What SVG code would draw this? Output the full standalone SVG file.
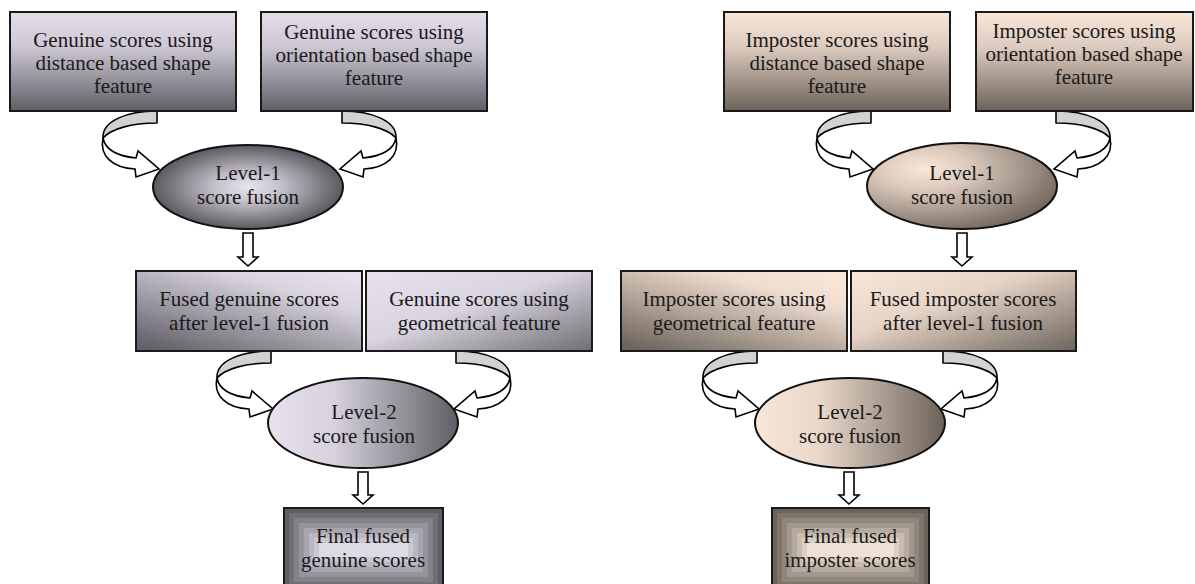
<svg xmlns="http://www.w3.org/2000/svg" xmlns:xlink="http://www.w3.org/1999/xlink" width="1195" height="584" viewBox="0 0 1195 584">
<style>
.bx{stroke:#1a1a1a;stroke-width:2}
.el{stroke:#111;stroke-width:2}
.t{font-family:"Liberation Serif","Times New Roman",serif;font-size:21px;fill:#1a1a1a;text-anchor:middle}
.gr{fill:#d2d2d2;stroke:#000;stroke-width:1.6;stroke-linejoin:round}
.wh{fill:#fff;stroke:#000;stroke-width:1.6;stroke-linejoin:miter}
.da{fill:#fff;stroke:#000;stroke-width:1.6}
</style>
<defs>
<linearGradient id="gV" x1="0" y1="0" x2="0" y2="1"><stop offset="0" stop-color="#e3deea"/><stop offset="0.35" stop-color="#cdc8d3"/><stop offset="1" stop-color="#5f5e65"/></linearGradient>
<linearGradient id="gD1" x1="0.1" y1="1" x2="0.9" y2="0"><stop offset="0" stop-color="#615f67"/><stop offset="0.75" stop-color="#d9d4df"/><stop offset="1" stop-color="#e6e1ec"/></linearGradient>
<linearGradient id="gD2" x1="0" y1="0" x2="1" y2="1"><stop offset="0" stop-color="#e7e2ed"/><stop offset="0.45" stop-color="#d9d4df"/><stop offset="1" stop-color="#6f6d74"/></linearGradient>
<radialGradient id="gR" cx="0.5" cy="0.5" r="0.5"><stop offset="0" stop-color="#e9e5ef"/><stop offset="0.35" stop-color="#c5c1cb"/><stop offset="1" stop-color="#5a595f"/></radialGradient>
<linearGradient id="gH" x1="0" y1="0" x2="1" y2="0"><stop offset="0" stop-color="#e7e2ed"/><stop offset="0.35" stop-color="#d6d1dc"/><stop offset="1" stop-color="#5f5e64"/></linearGradient>
<linearGradient id="iV" x1="0" y1="0" x2="0" y2="1"><stop offset="0" stop-color="#f9e7da"/><stop offset="0.35" stop-color="#ddcbbf"/><stop offset="1" stop-color="#6c6259"/></linearGradient>
<linearGradient id="iD1" x1="0.1" y1="1" x2="0.9" y2="0"><stop offset="0" stop-color="#6e645b"/><stop offset="0.75" stop-color="#efddd0"/><stop offset="1" stop-color="#f9e7da"/></linearGradient>
<linearGradient id="iD2" x1="0" y1="0" x2="1" y2="1"><stop offset="0" stop-color="#f9e7da"/><stop offset="0.4" stop-color="#e6d4c7"/><stop offset="1" stop-color="#6e645b"/></linearGradient>
<radialGradient id="iR" cx="0.3" cy="0.3" r="0.8"><stop offset="0" stop-color="#f9e7da"/><stop offset="0.3" stop-color="#dccabd"/><stop offset="1" stop-color="#6c6259"/></radialGradient>
<linearGradient id="iH" x1="0" y1="0" x2="1" y2="0"><stop offset="0" stop-color="#f9e7da"/><stop offset="0.35" stop-color="#e8d6c9"/><stop offset="1" stop-color="#6c6259"/></linearGradient>
<g id="curveL">
<path class="gr" d="M0,0 C-30,0 -55,10 -54,27 C-46,18 -26,12 0,12 Z"/>
<path class="wh" d="M-54,27 C-52,38 -40,45 -21,47 L-19,40 L2,58 L-21,66 L-22,58 C-44,57 -58,45 -54,27 Z"/>
</g>
</defs>

<g id="connectors">
<use xlink:href="#curveL" transform="translate(157,111)"/>
<use xlink:href="#curveL" transform="translate(342,111) scale(-1,1)"/>
<polygon class="da" points="243,233 253,233 253,257 258,257 248,266 238,257 243,257"/>
<use xlink:href="#curveL" transform="translate(271,351)"/>
<use xlink:href="#curveL" transform="translate(456,351) scale(-1,1)"/>
<polygon class="da" points="358,472 368,472 368,495 373,495 363,504 353,495 358,495"/>
<use xlink:href="#curveL" transform="translate(871,111)"/>
<use xlink:href="#curveL" transform="translate(1056,111) scale(-1,1)"/>
<polygon class="da" points="957,233 967,233 967,257 972,257 962,266 952,257 957,257"/>
<use xlink:href="#curveL" transform="translate(757,351)"/>
<use xlink:href="#curveL" transform="translate(943,351) scale(-1,1)"/>
<polygon class="da" points="844,472 854,472 854,495 859,495 849,504 839,495 844,495"/>
</g>

<g id="g_dist">
<rect class="bx" x="10" y="12" width="226" height="99" fill="url(#gV)"/>
<text class="t" x="123" y="47">Genuine scores using</text>
<text class="t" x="123" y="70">distance based shape</text>
<text class="t" x="123" y="93">feature</text>
</g>
<g id="g_orient">
<rect class="bx" x="261" y="12" width="226" height="99" fill="url(#gV)"/>
<text class="t" x="374" y="39">Genuine scores using</text>
<text class="t" x="374" y="62">orientation based shape</text>
<text class="t" x="374" y="85">feature</text>
</g>
<g id="g_l1">
<ellipse class="el" cx="248" cy="187" rx="95" ry="42" fill="url(#gR)"/>
<text class="t" x="248" y="180">Level-1</text>
<text class="t" x="248" y="204">score fusion</text>
</g>
<g id="g_fused">
<rect class="bx" x="136" y="271" width="226" height="80" fill="url(#gD1)"/>
<text class="t" x="249" y="306">Fused genuine scores</text>
<text class="t" x="249" y="330">after level-1 fusion</text>
</g>
<g id="g_geo">
<rect class="bx" x="366" y="271" width="226" height="80" fill="url(#gD2)"/>
<text class="t" x="479" y="306">Genuine scores using</text>
<text class="t" x="479" y="330">geometrical feature</text>
</g>
<g id="g_l2">
<ellipse class="el" cx="363" cy="423" rx="95" ry="45" fill="url(#gH)"/>
<text class="t" x="364" y="419">Level-2</text>
<text class="t" x="364" y="443">score fusion</text>
</g>
<g id="g_final">
<rect class="bx" x="284" y="508" width="159" height="84" fill="#5f5e64"/>
<rect x="289" y="513" width="149" height="74" fill="#716f76"/>
<rect x="294" y="518" width="139" height="64" fill="#838189"/>
<rect x="299" y="523" width="129" height="54" fill="#95939b"/>
<rect x="304" y="528" width="119" height="44" fill="#a8a5ae"/>
<rect x="309" y="533" width="109" height="34" fill="#bab7c0"/>
<rect x="314" y="538" width="99" height="24" fill="#ccc8d2"/>
<rect x="319" y="543" width="89" height="14" fill="#dedae4"/>
<text class="t" x="363" y="543">Final fused</text>
<text class="t" x="363" y="567">genuine scores</text>
</g>

<g id="i_dist">
<rect class="bx" x="724" y="12" width="226" height="99" fill="url(#iV)"/>
<text class="t" x="837" y="47">Imposter scores using</text>
<text class="t" x="837" y="70">distance based shape</text>
<text class="t" x="837" y="93">feature</text>
</g>
<g id="i_orient">
<rect class="bx" x="976" y="12" width="217" height="99" fill="url(#iV)"/>
<text class="t" x="1084" y="38">Imposter scores using</text>
<text class="t" x="1084" y="61">orientation based shape</text>
<text class="t" x="1084" y="84">feature</text>
</g>
<g id="i_l1">
<ellipse class="el" cx="962" cy="186" rx="95" ry="43" fill="url(#iR)"/>
<text class="t" x="962" y="180">Level-1</text>
<text class="t" x="962" y="204">score fusion</text>
</g>
<g id="i_geo">
<rect class="bx" x="621" y="271" width="226" height="80" fill="url(#iD1)"/>
<text class="t" x="734" y="306">Imposter scores using</text>
<text class="t" x="734" y="330">geometrical feature</text>
</g>
<g id="i_fused">
<rect class="bx" x="851" y="271" width="225" height="80" fill="url(#iD2)"/>
<text class="t" x="963" y="306">Fused imposter scores</text>
<text class="t" x="963" y="330">after level-1 fusion</text>
</g>
<g id="i_l2">
<ellipse class="el" cx="850" cy="423" rx="95" ry="45" fill="url(#iH)"/>
<text class="t" x="850" y="419">Level-2</text>
<text class="t" x="850" y="443">score fusion</text>
</g>
<g id="i_final">
<rect class="bx" x="772" y="508" width="157" height="84" fill="#6c6259"/>
<rect x="777" y="513" width="147" height="74" fill="#7e746b"/>
<rect x="782" y="518" width="137" height="64" fill="#91867c"/>
<rect x="787" y="523" width="127" height="54" fill="#a3988e"/>
<rect x="792" y="528" width="117" height="44" fill="#b6aa9f"/>
<rect x="797" y="533" width="107" height="34" fill="#c8bcb1"/>
<rect x="802" y="538" width="97" height="24" fill="#dbcec2"/>
<rect x="807" y="543" width="87" height="14" fill="#ede0d4"/>
<text class="t" x="850" y="543">Final fused</text>
<text class="t" x="850" y="567">imposter scores</text>
</g>
</svg>
